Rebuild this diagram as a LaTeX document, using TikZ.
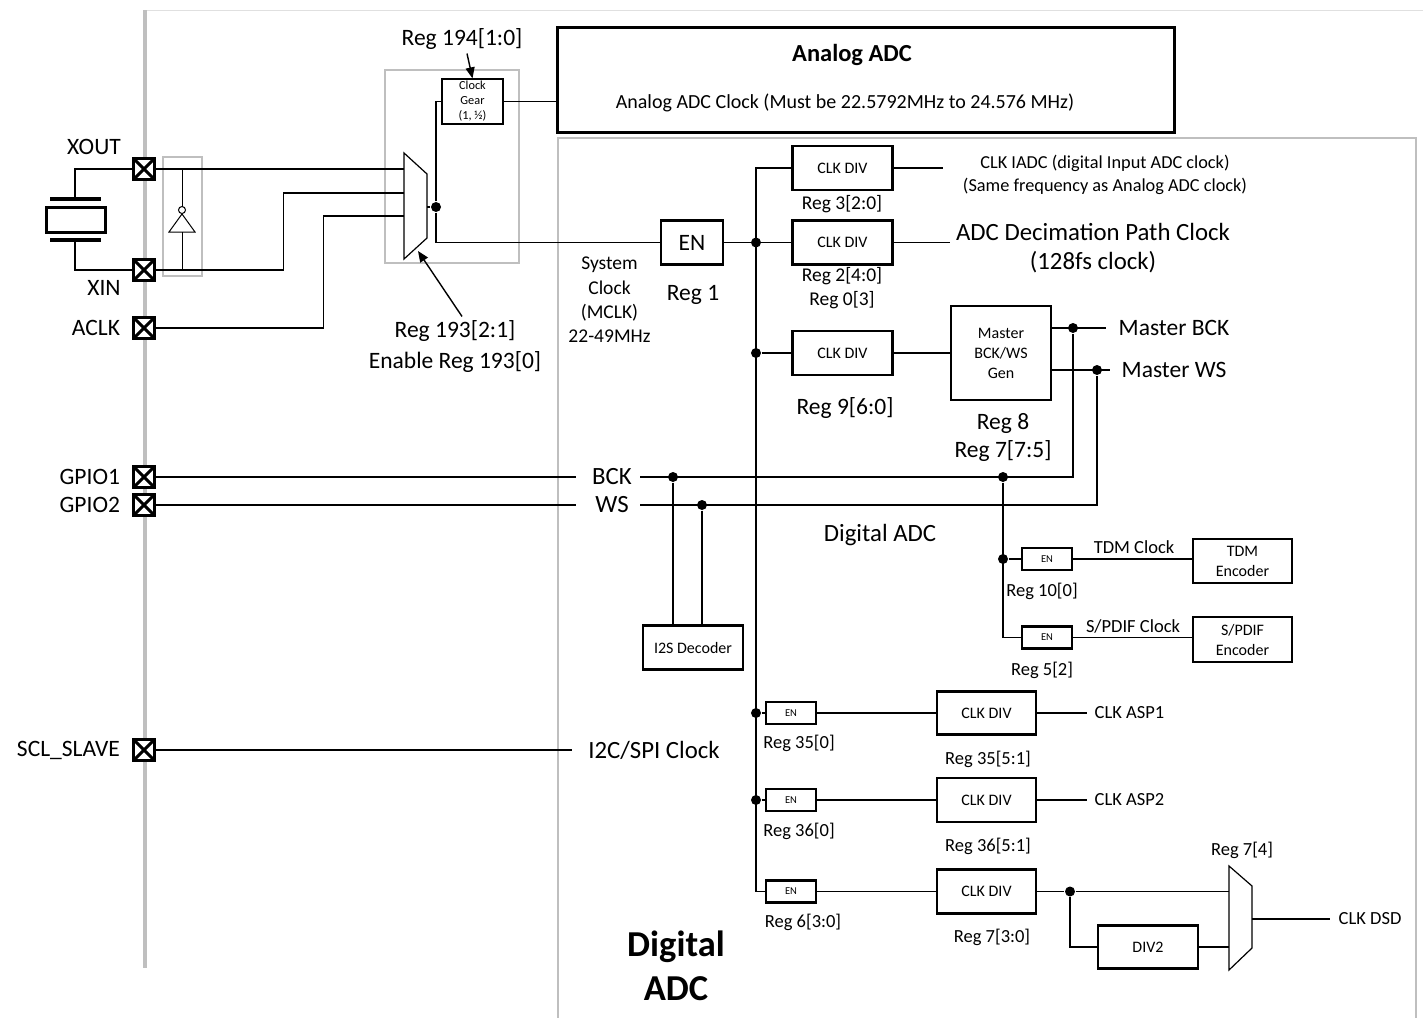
\documentclass[tikz,border=0pt]{standalone}
\usepackage{fontspec}
\setmainfont{Carlito}
\usetikzlibrary{arrows.meta}

\begin{document}
\begin{tikzpicture}[x=1pt, y=-1pt, line width=1.4pt,
    big/.style={font=\fontsize{23.5}{28}\selectfont},
    bigr/.style={font=\fontsize{24.8}{29}\selectfont},
    mid/.style={font=\fontsize{18.5}{23.5}\selectfont},
    sml/.style={font=\fontsize{16}{20}\selectfont},
    tiny/.style={font=\fontsize{10.5}{13}\selectfont},
    blk/.style={draw, line width=2.8pt, inner sep=0pt, align=center, minimum width=100pt, minimum height=44pt},
    enbox/.style={draw, line width=2.5pt, inner sep=0pt, minimum width=50pt, minimum height=22pt, tiny},
    pad/.style={draw, fill=white, line width=3.4pt, minimum size=21pt, inner sep=0pt,
        path picture={\draw[line width=3pt] (path picture bounding box.south west) -- (path picture bounding box.north east)
            (path picture bounding box.north west) -- (path picture bounding box.south east);}},
    dot/.style={circle, fill, inner sep=0pt, minimum size=10pt},
    arr/.style={-{Triangle[length=11pt,width=9pt]}},
    greybox/.style={draw=black!25, line width=2.5pt}
]
\useasboundingbox (0,0) rectangle (1423,1017);

% frames
\draw[black!12, line width=1pt] (145,10) -- (1423,10);
\draw[black!25, line width=4pt] (145,10) -- (145,968);
\draw[greybox] (558,1030) |- (1416,138) -- (1416,1030);
\draw[greybox] (385,70) rectangle (519,263);
\draw[greybox] (163,157) rectangle (202,276);

% pads
\node[pad] (xout) at (144,169) {};
\node[pad] (xin) at (144,270) {};
\node[pad] (aclk) at (144,328) {};
\node[pad] (gpio1) at (144,477) {};
\node[pad] (gpio2) at (144,505) {};
\node[pad] (scl) at (144,750) {};
\node[big] (lxout) at (94,147) {XOUT};
\node[big] (lxin) at (104,288) {XIN};
\node[big, anchor=east] (laclk) at (124,328) {ACLK};
\node[big, anchor=east] (lgpio1) at (124,477) {GPIO1};
\node[big, anchor=east] (lgpio2) at (124,505) {GPIO2};
\node[big, anchor=east] (lscl) at (124,750) {SCL\_SLAVE};

% crystal
\draw (xout.west) -| (75,199);
\draw[line width=3.5pt] (50,199) -- (101,199);
\draw[line width=3pt] (46,207) rectangle (105,232);
\draw[line width=3.5pt] (50,240) -- (101,240);
\draw (75,240) |- (xin.west);

% inverter
\draw[line width=1pt] (182,169) -- (182,206.5);
\draw[line width=1pt] (182,210) circle (3.5pt);
\draw[line width=1pt] (182,214) -- (169,232) -- (195,232) -- cycle;
\draw[line width=1pt] (182,232) -- (182,270);

% clock mux
\coordinate (mux1a) at (404,169);
\coordinate (mux1b) at (404,193);
\coordinate (mux1c) at (404,216);
\coordinate (mux1o) at (427,207);
\coordinate (mux1s) at (418,251);
\draw (xout.east) -- (mux1a);
\draw (xin.east) -- ++(127,0) |- (mux1b);
\draw (aclk.east) -- ++(167,0) |- (mux1c);
\draw[fill=white, line width=1.2pt] (404,153) -- (427,174) -- (427,238) -- (404,259) -- cycle;

\node[draw, line width=1.2pt, align=center, inner sep=0pt, minimum width=61pt, minimum height=45pt,
    font=\fontsize{12.3}{15}\selectfont] (gear) at (472.5,101.5) {Clock\\Gear\\(1, ½)};
\node[big] (r194) at (462,39) {Reg 194[1:0]};
\draw[arr] ([xshift=5pt]r194.south) -- (gear.north);
\node[big] (r193) at (455,331) {Reg 193[2:1]};
\node[big] (en193) at (455,362) {Enable Reg 193[0]};
\draw[arr] ([xshift=7pt]r193.north) -- (mux1s);

\node[dot] (mout) at (436,207) {};
\draw (mux1o) -- (mout);
\draw (mout) |- (gear.west);

% analog adc
\node[draw, line width=3pt, minimum width=617pt, minimum height=105pt] (aadc) at (865.5,79.5) {};
\node[font={\fontsize{24.5}{28}\selectfont\bfseries}] (aadct) at (852,55) {Analog ADC};
\node[font=\fontsize{20}{24}\selectfont] (aadcclk) at (845,103) {Analog ADC Clock (Must be 22.5792MHz to 24.576 MHz)};
\draw (gear.east) -- (gear.east -| aadc.west);

% system clock
\node[draw, line width=2.8pt, minimum width=62pt, minimum height=44pt, inner sep=0pt, big] (en) at (692,242.5) {EN};
\draw (mout) |- (en.west);
\node[align=center, font=\fontsize{19.5}{24.3}\selectfont] (sysclk) at (609.5,300) {System\\Clock\\(MCLK)\\22-49MHz};
\node[big] (reg1) at (693,295) {Reg 1};

% dividers
\node[blk, sml] (div1) at (842.5,168) {CLK DIV};
\node[blk, sml] (div2) at (842.5,242.5) {CLK DIV};
\node[blk, sml] (div3) at (842.5,353) {CLK DIV};
\node[font=\fontsize{19.5}{23.5}\selectfont] (r3) at (842,204) {Reg 3[2:0]};
\node[align=center, font=\fontsize{19.5}{23.5}\selectfont] (r2) at (842,288) {Reg 2[4:0]\\Reg 0[3]};
\node[big] (r9) at (845,408) {Reg 9[6:0]};

\node[enbox] (en35) at (791,713) {EN};
\node[enbox] (en36) at (791,800) {EN};
\node[enbox] (en6) at (791,891.5) {EN};

\coordinate (bustop) at (756,168);
\draw (div1.west) -- (bustop) |- (en6.west);
\node[dot] (b1) at (756,242.5) {};
\node[dot] (b2) at (756,353) {};
\node[dot] (b3) at (756,713) {};
\node[dot] (b4) at (756,800) {};
\draw (en.east) -- (div2.west);
\draw (b2) -- (div3.west);

\draw (div1.east) -- ++(49,0);
\node[align=center, font=\fontsize{18.3}{23.5}\selectfont] (tiadc) at (1105,175) {CLK IADC (digital Input ADC clock)\\(Same frequency as Analog ADC clock)};
\draw (div2.east) -- ++(56,0);
\node[align=center, bigr] (tdec) at (1093,248.5) {ADC Decimation Path Clock\\(128fs clock)};

% master bck/ws
\node[blk, sml, minimum height=94pt] (mgen) at (1001,353) {Master\\BCK/WS\\Gen};
\draw (div3.east) -- (mgen.west);
\node[align=center, big] (r8) at (1003,437) {Reg 8\\Reg 7[7:5]};
\node[dot] (mbck) at (1073,328) {};
\node[dot] (mws) at (1097,370) {};
\node[big, anchor=west, inner sep=0pt] (tmbck) at (1118,328) {Master BCK};
\node[big, anchor=west, inner sep=0pt] (tmws) at (1121,370) {Master WS};
\draw (mgen.east |- mbck) -- ([xshift=-12pt]tmbck.west);
\draw (mgen.east |- mws) -- ([xshift=-11pt]tmws.west);

% bck / ws inputs
\node[bigr] (tbck) at (612,477) {BCK};
\node[bigr] (tws) at (612,505) {WS};
\coordinate (bckl) at (576,477);
\coordinate (bckr) at (640,477);
\coordinate (wsl) at (576,505);
\coordinate (wsr) at (640,505);
\draw (gpio1.east) -- (bckl);
\draw (gpio2.east) -- (wsl);
\draw (bckr) -| (mbck);
\draw (wsr) -| (mws);
\node[dot] (d5) at (673,477) {};
\node[dot] (d6) at (702,505) {};
\node[dot] (d7) at (1003,477) {};
\node[blk, sml, minimum width=100pt, minimum height=44pt] (i2s) at (693,647.5) {I2S Decoder};
\draw (d5) -- (d5 |- i2s.north);
\draw (d6) -- (d6 |- i2s.north);
\node[bigr] (dadc) at (880,535) {Digital ADC};

% tdm / spdif
\node[dot] (d8) at (1003,559) {};
\node[enbox] (entdm) at (1047,559) {EN};
\node[enbox] (enspd) at (1047,637.5) {EN};
\node[blk, sml, minimum width=99pt] (tdm) at (1242.5,561) {TDM\\Encoder};
\node[blk, sml, minimum width=99pt, minimum height=45pt] (spd) at (1242.5,639.5) {S/PDIF\\Encoder};
\draw (d7) |- (enspd.west);
\draw (d8) -- (entdm.west);
\draw (entdm.east) -- (entdm.east -| tdm.west);
\draw (enspd.east) -- (enspd.east -| spd.west);
\node[mid] (ttdm) at (1134,547) {TDM Clock};
\node[mid] (tspd) at (1133,626) {S/PDIF Clock};
\node[mid] (r10) at (1042,591) {Reg 10[0]};
\node[mid] (r5) at (1042,670) {Reg 5[2]};

% i2c
\node[bigr] (ti2c) at (654,750) {I2C/SPI Clock};
\coordinate (scll) at (572,750);
\draw (scl.east) -- (scll);

% asp / dsd clocks
\node[blk, sml, minimum width=99pt, minimum height=43pt] (cd35) at (986.5,713) {CLK DIV};
\node[blk, sml, minimum width=99pt] (cd36) at (986.5,800) {CLK DIV};
\node[blk, sml, minimum width=99pt] (cd7) at (986.5,891.5) {CLK DIV};
\draw (b3) -- (en35.west);
\draw (b4) -- (en36.west);
\draw (en35.east) -- (cd35.west);
\draw (en36.east) -- (cd36.west);
\draw (en6.east) -- (cd7.west);
\node[mid] (r350) at (799,743) {Reg 35[0]};
\node[mid] (r360) at (799,831) {Reg 36[0]};
\node[mid] (r6) at (803,922) {Reg 6[3:0]};
\node[mid] (r351) at (988,759) {Reg 35[5:1]};
\node[mid] (r361) at (988,846) {Reg 36[5:1]};
\node[mid] (r7) at (992,937) {Reg 7[3:0]};
\node[mid, anchor=west, inner sep=0pt] (asp1) at (1094,713) {CLK ASP1};
\node[mid, anchor=west, inner sep=0pt] (asp2) at (1094,800) {CLK ASP2};
\draw (cd35.east) -- ([xshift=-7pt]asp1.west);
\draw (cd36.east) -- ([xshift=-7pt]asp2.west);

\coordinate (mux2a) at (1229,891.5);
\coordinate (mux2b) at (1229,947);
\coordinate (mux2o) at (1252,919);
\node[dot] (d9) at (1070,891.5) {};
\node[blk, sml, minimum width=100pt, minimum height=43pt] (div2b) at (1148,947) {DIV2};
\draw (cd7.east) -- (d9) -- (mux2a);
\draw (d9) |- (div2b.west);
\draw (div2b.east) -- (mux2b);
\draw[line width=1.2pt] (1229,866) -- (1252,886) -- (1252,948) -- (1229,970) -- cycle;
\node[mid] (r74) at (1242,850) {Reg 7[4]};
\node[mid, anchor=west, inner sep=0pt] (tdsd) at (1338,919) {CLK DSD};
\draw (mux2o) -- ([xshift=-8pt]tdsd.west);

\node[align=center, font={\fontsize{36.5}{44}\selectfont\bfseries}] (dadcbig) at (676,966) {Digital\\ADC};
\end{tikzpicture}
\end{document}
